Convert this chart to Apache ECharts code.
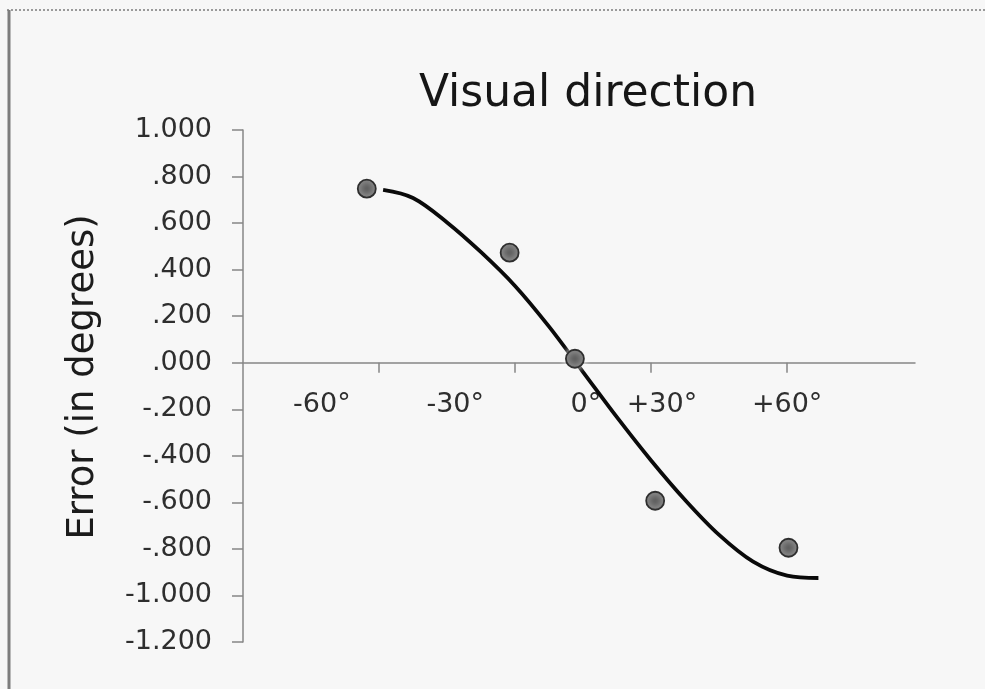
<!DOCTYPE html>
<html>
<head>
<meta charset="utf-8">
<title>Visual direction</title>
<script src="https://cdn.jsdelivr.net/npm/echarts@6/dist/echarts.min.js"></script>
<style>
  html, body { margin: 0; padding: 0; background: #f7f7f7; }
  #chart { width: 985px; height: 689px; }
</style>
</head>
<body>
<div id="chart"></div>
<script>
// Measured errors at each viewing direction (x in axis slot units)
const pointX = [0.91, 1.96, 2.44, 3.03, 4.01];
const pointY = [0.748, 0.473, 0.017, -0.593, -0.795];

// Fitted trend curve, read as a sequence of points
const fitX = [1.03, 1.25, 1.5, 1.75, 2.0, 2.25, 2.5, 2.75, 3.0, 3.25, 3.5, 3.75, 4.0, 4.23];
const fitY = [0.743, 0.708, 0.603, 0.475, 0.330, 0.155, -0.04, -0.235, -0.42, -0.59, -0.74, -0.855, -0.915, -0.925];

// Direction labels along the horizontal axis
const dirLabels = ['-60°', '-30°', '0°', '+30°', '+60°'];
const dirLabelAt = [0.58, 1.56, 2.52, 3.08, 4.0];
const dirTicks = [1, 2, 3, 4];

// Vertical axis range
const yMin = -1.2, yMax = 1.0, yStep = 0.2;

// Plot area
const gridBox = { left: 243, right: 70, top: 130, bottom: 47 };
const plotHeight = 689 - gridBox.top - gridBox.bottom;
// the horizontal axis crosses at zero: lift it from the grid bottom
const zeroLift = plotHeight * (0 - yMin) / (yMax - yMin);

function fmtError(v) {
  const s = v.toFixed(3);
  return s.replace(/^(-?)0\./, '$1.');
}

const FONT = 'DejaVu Sans';
const chart = echarts.init(document.getElementById('chart'), null, { renderer: 'canvas' });

chart.setOption({
  backgroundColor: '#f7f7f7',
  animation: false,
  title: {
    text: 'Visual direction',
    left: 583,
    top: 68,
    textAlign: 'center',
    textStyle: { fontFamily: FONT, fontSize: 44, fontWeight: 'normal', color: '#161616' }
  },
  grid: Object.assign({ containLabel: false }, gridBox),
  xAxis: {
    type: 'value',
    min: 0,
    max: 4.94,
    interval: 1,
    offset: -zeroLift,
    axisLine: { onZero: false, lineStyle: { color: '#878787', width: 1.5 } },
    axisTick: { show: true, customValues: dirTicks, length: 10, lineStyle: { color: '#878787', width: 1.5 } },
    axisLabel: {
      customValues: dirLabelAt,
      margin: 29,
      fontFamily: FONT,
      fontSize: 27,
      color: '#2e2e2e',
      formatter: function (v) {
        const i = dirLabelAt.indexOf(v);
        return i >= 0 ? dirLabels[i] : '';
      }
    },
    splitLine: { show: false }
  },
  yAxis: {
    type: 'value',
    min: yMin,
    max: yMax,
    interval: yStep,
    name: 'Error (in degrees)',
    nameLocation: 'middle',
    nameRotate: 90,
    nameGap: 141,
    nameTextStyle: { fontFamily: FONT, fontSize: 37, color: '#1c1c1c', padding: [0, 0, 0, 18] },
    axisLine: { show: true, onZero: false, lineStyle: { color: '#878787', width: 1.5 } },
    axisTick: { show: true, length: 11, lineStyle: { color: '#878787', width: 1.5 } },
    axisLabel: {
      margin: 31,
      fontFamily: FONT,
      fontSize: 27,
      color: '#2e2e2e',
      formatter: fmtError
    },
    splitLine: { show: false }
  },
  graphic: [
    {
      type: 'line',
      shape: { x1: 7, y1: 10, x2: 985, y2: 10 },
      style: { stroke: '#9a9a9a', lineWidth: 2, lineDash: [2, 2] },
      silent: true
    },
    {
      type: 'line',
      shape: { x1: 9, y1: 10, x2: 9, y2: 689 },
      style: { stroke: '#7d7d7d', lineWidth: 3 },
      silent: true
    }
  ],
  series: [
    {
      type: 'line',
      data: fitX.map((x, i) => [x, fitY[i]]),
      smooth: 0.35,
      showSymbol: false,
      lineStyle: { color: '#0a0a0a', width: 3.8 },
      z: 2
    },
    {
      type: 'scatter',
      data: pointX.map((x, i) => [x, pointY[i]]),
      symbol: 'circle',
      symbolSize: 18,
      itemStyle: {
        color: '#5d5d5d',
        borderColor: '#2e2e2e',
        borderWidth: 1.8,
        opacity: 1,
        shadowColor: '#f7f7f7',
        shadowBlur: 6
      },
      z: 3
    }
  ]
});
</script>
</body>
</html>
